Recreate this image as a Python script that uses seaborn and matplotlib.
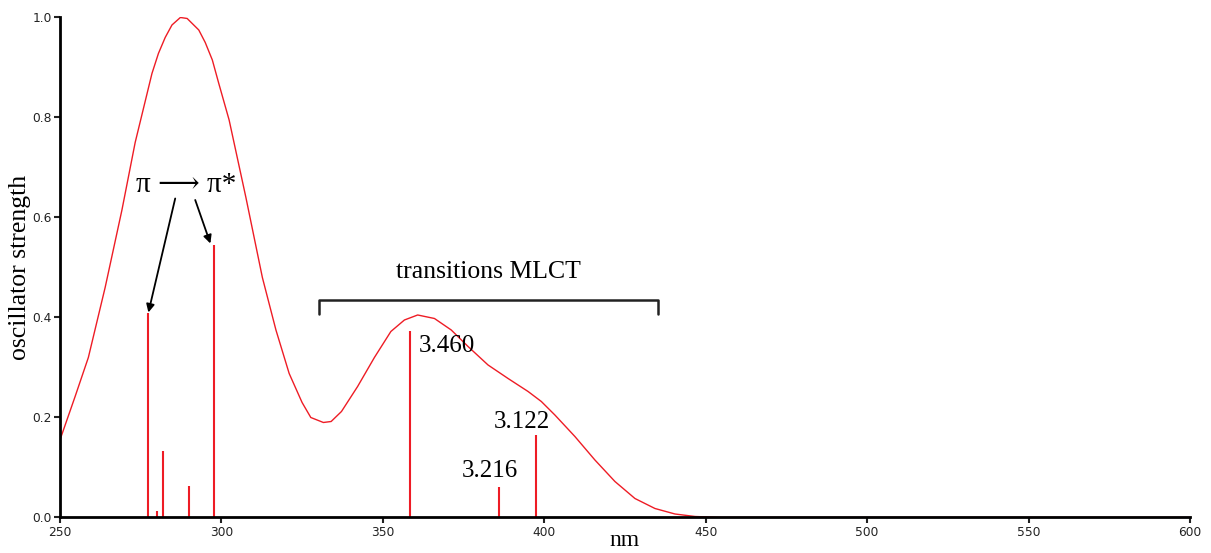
import pandas as pd
import matplotlib
matplotlib.use('Agg')
import matplotlib.pyplot as plt
import seaborn as sns

# spectrum (nm, oscillator strength)
curve_nm = [250, 254.7, 258.8, 264.0, 269.2, 273.3, 278.5, 280.5, 282.6, 284.7,
            287.3, 289.4, 293.0, 295.0, 297.2, 299.2, 302.4, 307.6, 312.7, 316.9,
            321.0, 325.0, 327.7, 331.6, 334.0, 337.2, 342.2, 347.4, 352.5, 356.7,
            360.8, 366.0, 371.2, 376.4, 382.6, 388.8, 395.0, 399.1, 403.3, 409.5,
            415.7, 421.9, 428.1, 434.3, 440.5, 446.7, 455, 500, 550, 600]
curve_f = [0.155, 0.242, 0.32, 0.46, 0.615, 0.75, 0.888, 0.928, 0.96, 0.985,
           1.0, 0.998, 0.975, 0.95, 0.915, 0.868, 0.795, 0.64, 0.48, 0.375,
           0.288, 0.23, 0.2, 0.19, 0.192, 0.212, 0.262, 0.32, 0.372, 0.395,
           0.405, 0.398, 0.375, 0.342, 0.305, 0.278, 0.252, 0.232, 0.205, 0.162,
           0.115, 0.072, 0.038, 0.018, 0.007, 0.002, 0.0, 0.0, 0.0, 0.0]

# transitions (sticks)
stick_nm = [277.3, 280.0, 282.0, 289.9, 297.6, 358.5, 385.9, 397.6]
stick_f = [0.408, 0.013, 0.132, 0.063, 0.545, 0.372, 0.06, 0.165]

# labels of the MLCT transitions (eV)
label_text = ['3.460', '3.216', '3.122']
label_nm = [361.0, 383.2, 393.2]
label_f = [0.343, 0.093, 0.19]

df = pd.DataFrame({'nm': curve_nm, 'f': curve_f})

sns.set_style('ticks')
plt.rcParams['text.color'] = 'black'
plt.rcParams['axes.labelcolor'] = 'black'
fig = plt.figure(figsize=(12.11, 5.53), dpi=100)
ax = fig.add_axes([0.0495, 0.0642, 0.9331, 0.9042])

sns.lineplot(data=df, x='nm', y='f', color='#ee1c25', linewidth=1.0, ax=ax)
ax.vlines(stick_nm, 0, stick_f, color='#ee1c25', linewidth=1.5)

ax.set_xlim(250, 600)
ax.set_ylim(0, 1.0)
ax.set_xticks([250, 300, 350, 400, 450, 500, 550, 600])
ax.set_yticks([0.0, 0.2, 0.4, 0.6, 0.8, 1.0])
ax.tick_params(labelsize=8.8, length=4, width=1.5, pad=2, colors='#222222')
for s in ['left', 'bottom']:
    ax.spines[s].set_linewidth(2)
    ax.spines[s].set_color('black')
sns.despine(ax=ax)

serif = ['Liberation Serif', 'DejaVu Serif', 'DejaVu Sans']
ax.set_xlabel('nm', family=serif, fontsize=17, labelpad=-6)
ax.set_ylabel('oscillator strength', family=serif, fontsize=18.5, labelpad=1)

# pi -> pi* annotation
ax.text(289.0, 0.665, 'π ⟶ π*', family=serif, fontsize=21,
        ha='center', va='center')
ax.annotate('', xy=(277.4, 0.41), xytext=(285.7, 0.638),
            arrowprops=dict(arrowstyle='-|>', color='black', lw=1.3,
                            mutation_scale=12, shrinkA=0, shrinkB=0))
ax.annotate('', xy=(296.6, 0.548), xytext=(291.9, 0.635),
            arrowprops=dict(arrowstyle='-|>', color='black', lw=1.3,
                            mutation_scale=12, shrinkA=0, shrinkB=0))

# MLCT bracket
ax.plot([330.1, 330.1, 435.1, 435.1], [0.407, 0.435, 0.435, 0.407],
        color='#222222', linewidth=1.8)
ax.text(382.6, 0.49, 'transitions MLCT', family=serif, fontsize=18.5,
        ha='center', va='center')

for t, x, y in zip(label_text, label_nm, label_f):
    ha = 'left' if t == '3.460' else 'center'
    ax.text(x, y, t, family=serif, fontsize=18, ha=ha, va='center')

fig.savefig('out.png', dpi=100)
